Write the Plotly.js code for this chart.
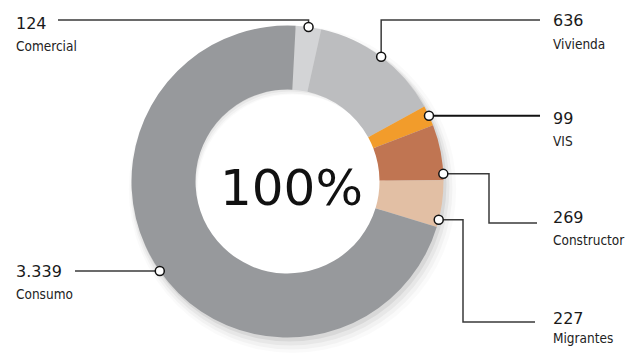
<!DOCTYPE html>
<html>
<head>
<meta charset="utf-8">
<script src="https://cdn.plot.ly/plotly-3.0.1.min.js"></script>
<style>
html,body{margin:0;padding:0;background:#fff;}
#chart{width:630px;height:353px;}
</style>
</head>
<body>
<div id="chart"></div>
<script>
// ---- data ----
const categories = ['Comercial', 'Vivienda', 'VIS', 'Constructor', 'Migrantes', 'Consumo'];
const values = [124, 636, 99, 269, 227, 3339];
const valueLabels = ['124', '636', '99', '269', '227', '3.339'];
const centerLabel = '100%';
const colors = ['#d3d4d6', '#bcbdbf', '#f29c2b', '#c07552', '#e2bfa4', '#97999c'];

// ---- layout config (pixels) ----
const W = 630, H = 353;
const CX = 287.5, CY = 181.5, R = 156, RIN = 92;
const ROTATION = 3;
// label placement: text x, number center y, name center y, leader route
const labelCfg = [
  {x: 14,  ny: 23,  my: 46,  nudge: 0, route: 'up',    lineY: 20,  endX: 58},
  {x: 551, ny: 20,  my: 44,  nudge: 0, route: 'up',    lineY: 20,  endX: 540},
  {x: 551, ny: 118, my: 141, nudge: 0, route: 'flat',  lineY: null, endX: 540},
  {x: 551, ny: 217, my: 240, nudge: 8, route: 'elbow', bendX: 489, lineY: 223, endX: 537},
  {x: 551, ny: 318, my: 338, nudge: 6, route: 'elbow', bendX: 463, lineY: 322, endX: 535},
  {x: 14,  ny: 271, my: 294, nudge: 0, route: 'flat',  lineY: null, endX: 75}
];

const px = x => x / W;
const py = y => 1 - y / H;
function domainFor(cx, cy, r) {
  return {x: [px(cx - r), px(cx + r)], y: [py(cy + r), py(cy - r)]};
}

const traces = [];
// soft drop shadow layers
const shadowLayers = [
  {dx: 2, dy: 3, r: R + 1, a: 0.06},
  {dx: 3, dy: 5, r: R + 3, a: 0.045},
  {dx: 4, dy: 7, r: R + 5, a: 0.03},
  {dx: 5, dy: 8, r: R + 8, a: 0.02}
];
shadowLayers.forEach(s => {
  traces.push({
    type: 'pie', values: [1], labels: ['shadow'],
    marker: {colors: ['rgba(0,0,0,' + s.a + ')'], line: {width: 0}},
    hole: (RIN + 3) / s.r, textinfo: 'none', hoverinfo: 'skip', sort: false,
    showlegend: false, domain: domainFor(CX + s.dx, CY + s.dy, s.r)
  });
});

traces.push({
  type: 'pie',
  labels: categories,
  values: values,
  marker: {colors: colors, line: {width: 0}},
  hole: RIN / R,
  sort: false,
  direction: 'clockwise',
  rotation: ROTATION,
  textinfo: 'none',
  hoverinfo: 'label+value',
  showlegend: false,
  domain: domainFor(CX, CY, R)
});

// compute slice mid angles from data
const total = values.reduce((a, b) => a + b, 0);
let acc = 0;
const shapes = [];
const dots = [];
const annotations = [];
values.forEach((v, i) => {
  const cfg = labelCfg[i];
  const mid = ROTATION + (acc + v / 2) / total * 360 + cfg.nudge;
  acc += v;
  const rad = mid * Math.PI / 180;
  const dx = CX + R * Math.sin(rad);
  const dy = CY - R * Math.cos(rad);
  let pts;
  if (cfg.route === 'up') {
    pts = [[dx, dy], [dx, cfg.lineY], [cfg.endX, cfg.lineY]];
  } else if (cfg.route === 'flat') {
    pts = [[dx, dy], [cfg.endX, dy]];
  } else {
    pts = [[dx, dy], [cfg.bendX, dy], [cfg.bendX, cfg.lineY], [cfg.endX, cfg.lineY]];
  }
  const path = pts.map((p, k) => (k ? 'L' : 'M') + px(p[0]) + ',' + py(p[1])).join(' ');
  shapes.push({
    type: 'path', xref: 'paper', yref: 'paper', path: path,
    line: {color: i === 2 ? '#111' : '#3a3a3a', width: i === 2 ? 2 : 1.5}
  });
  const dr = 4.5;
  dots.push({
    type: 'circle', xref: 'paper', yref: 'paper',
    x0: px(dx - dr), x1: px(dx + dr), y0: py(dy + dr), y1: py(dy - dr),
    fillcolor: '#ffffff', line: {color: '#111', width: 1.5}
  });
  annotations.push({
    xref: 'paper', yref: 'paper', x: px(cfg.x), y: py(cfg.ny),
    xanchor: 'left', yanchor: 'middle', showarrow: false,
    text: valueLabels[i],
    font: {family: 'DejaVu Sans, sans-serif', size: 16, color: '#1a1a1a'}
  });
  annotations.push({
    xref: 'paper', yref: 'paper', x: px(cfg.x), y: py(cfg.my),
    xanchor: 'left', yanchor: 'middle', showarrow: false,
    text: categories[i],
    font: {family: 'DejaVu Sans Condensed, sans-serif', size: 13.5, color: '#222'}
  });
});

annotations.push({
  xref: 'paper', yref: 'paper', x: px(291), y: py(188),
  xanchor: 'center', yanchor: 'middle', showarrow: false,
  text: centerLabel,
  font: {family: 'DejaVu Sans, sans-serif', size: 50, color: '#111'}
});

const layout = {
  width: W, height: H,
  margin: {l: 0, r: 0, t: 0, b: 0, pad: 0},
  paper_bgcolor: '#ffffff', plot_bgcolor: '#ffffff',
  showlegend: false,
  shapes: shapes.concat(dots),
  annotations: annotations
};

Plotly.newPlot('chart', traces, layout, {displayModeBar: false, staticPlot: true});
</script>
</body>
</html>
